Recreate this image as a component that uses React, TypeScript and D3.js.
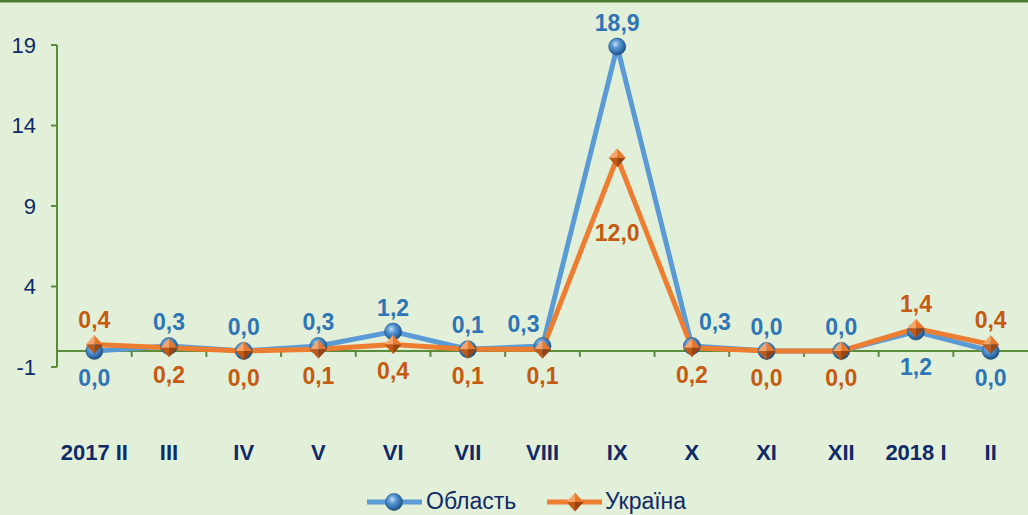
import React from "react";
import * as d3 from "d3";

const categories = ["2017 II", "III", "IV", "V", "VI", "VII", "VIII", "IX", "X", "XI", "XII", "2018 I", "II"];
const oblast = [0.0, 0.3, 0.0, 0.3, 1.2, 0.1, 0.3, 18.9, 0.3, 0.0, 0.0, 1.2, 0.0];
const ukraine = [0.4, 0.2, 0.0, 0.1, 0.4, 0.1, 0.1, 12.0, 0.2, 0.0, 0.0, 1.4, 0.4];
const oblastLabelPos = ["below", "above", "above", "above", "above", "above", "above-left", "above", "above-right", "above", "above", "below-more", "below"];
const ukraineLabelPos = ["above", "below", "below", "below", "below", "below", "below", "far-below", "below", "below", "below", "above", "above"];
const yTicks = [-1, 4, 9, 14, 19];
const seriesNames = ["Область", "Україна"];

const W = 1028;
const H = 515;
const margin = { left: 57, right: 0, top: 45, bottom: 148 };

const BLUE = "#5b9bd5";
const BLUE_TEXT = "#2e75b6";
const ORANGE = "#ed7d31";
const ORANGE_TEXT = "#c55a11";
const NAVY = "#0f2a66";
const AXIS = "#5b8c3a";
const FONT = "'Liberation Sans', Arial, sans-serif";

const fmt = (v: number) => v.toFixed(1).replace(".", ",");

function Sphere({ x, y, r = 8.5 }: { x: number; y: number; r?: number }) {
  return <circle cx={x} cy={y} r={r} fill="url(#sphereGrad)" stroke="#1f4e79" strokeWidth={0.6} />;
}

function Diamond({ x, y, w = 8.5, h = 9.5 }: { x: number; y: number; w?: number; h?: number }) {
  return (
    <g>
      <path d={`M${x},${y - h}L${x - w},${y}L${x},${y}Z`} fill="#f6a56a" />
      <path d={`M${x},${y - h}L${x + w},${y}L${x},${y}Z`} fill="#e8782c" />
      <path d={`M${x - w},${y}L${x},${y + h}L${x},${y}Z`} fill="#c25a16" />
      <path d={`M${x + w},${y}L${x},${y + h}L${x},${y}Z`} fill="#9a4410" />
    </g>
  );
}

export default function App() {
  const x = d3
    .scaleBand<string>()
    .domain(categories)
    .range([margin.left, W - margin.right]);
  const y = d3.scaleLinear().domain([-1, 19]).range([367, 45]);
  const cx = (c: string) => (x(c) as number) + x.bandwidth() / 2;

  const line = d3
    .line<number>()
    .x((_, i) => cx(categories[i]))
    .y((d) => y(d));

  const labelPos = (pos: string, px: number, py: number) => {
    switch (pos) {
      case "above":
        return { x: px, y: py - 16 };
      case "above-right":
        return { x: px + 23, y: py - 16 };
      case "above-left":
        return { x: px - 19, y: py - 14 };
      case "far-below":
        return { x: px, y: py + 83 };
      case "below-more":
        return { x: px, y: py + 43 };
      default:
        return { x: px, y: py + 35 };
    }
  };

  const boundaries = categories.map((c) => (x(c) as number) + x.bandwidth()).slice(0, -1);

  return (
    <svg width={W} height={H} style={{ position: "absolute", left: 0, top: 0 }}>
      <defs>
        <radialGradient id="sphereGrad" cx="40%" cy="35%" r="65%">
          <stop offset="0%" stopColor="#c9e0f5" />
          <stop offset="35%" stopColor="#5b9bd5" />
          <stop offset="80%" stopColor="#2c6aa8" />
          <stop offset="100%" stopColor="#1f4e79" />
        </radialGradient>
      </defs>
      <rect x={0} y={0} width={W} height={H} fill="#e2efd9" />
      <line x1={0} x2={W} y1={1} y2={1} stroke="#4f7a30" strokeWidth={3} />

      {/* y axis */}
      <line x1={margin.left} x2={margin.left} y1={y(19)} y2={y(-1)} stroke={AXIS} strokeWidth={2} />
      {yTicks.map((t) => (
        <g key={t}>
          <line x1={margin.left - 6} x2={margin.left} y1={y(t)} y2={y(t)} stroke={AXIS} strokeWidth={2} />
          <text x={36} y={y(t)} dy="0.36em" textAnchor="end" fontFamily={FONT} fontSize={22} fill={NAVY}>
            {t}
          </text>
        </g>
      ))}

      {/* x axis at 0 */}
      <line x1={margin.left} x2={W} y1={y(0)} y2={y(0)} stroke={AXIS} strokeWidth={2} />
      {boundaries.map((b, i) => (
        <line key={i} x1={b} x2={b} y1={y(0)} y2={y(0) + 6} stroke={AXIS} strokeWidth={2} />
      ))}
      {categories.map((c) => (
        <text key={c} x={cx(c)} y={460} textAnchor="middle" fontFamily={FONT} fontSize={22} fontWeight="bold" fill={NAVY}>
          {c}
        </text>
      ))}

      {/* lines */}
      <path d={line(oblast) || ""} fill="none" stroke={BLUE} strokeWidth={5} strokeLinejoin="round" />
      <path d={line(ukraine) || ""} fill="none" stroke={ORANGE} strokeWidth={5} strokeLinejoin="round" />

      {oblast.map((v, i) => (
        <Sphere key={"o" + i} x={cx(categories[i])} y={y(v)} />
      ))}
      {ukraine.map((v, i) => (
        <Diamond key={"u" + i} x={cx(categories[i])} y={y(v)} />
      ))}

      {oblast.map((v, i) => {
        const p = labelPos(oblastLabelPos[i], cx(categories[i]), y(v));
        return (
          <text key={"ol" + i} x={p.x} y={p.y} textAnchor="middle" fontFamily={FONT} fontSize={23} fontWeight="bold" fill={BLUE_TEXT}>
            {fmt(v)}
          </text>
        );
      })}
      {ukraine.map((v, i) => {
        const p = labelPos(ukraineLabelPos[i], cx(categories[i]), y(v));
        return (
          <text key={"ul" + i} x={p.x} y={p.y} textAnchor="middle" fontFamily={FONT} fontSize={23} fontWeight="bold" fill={ORANGE_TEXT}>
            {fmt(v)}
          </text>
        );
      })}

      {/* legend */}
      <g>
        <line x1={367} x2={422} y1={502} y2={502} stroke={BLUE} strokeWidth={5} />
        <Sphere x={394} y={502} />
        <text x={426} y={509} fontFamily={FONT} fontSize={23} fill={NAVY}>
          {seriesNames[0]}
        </text>
        <line x1={547} x2={602} y1={502} y2={502} stroke={ORANGE} strokeWidth={5} />
        <Diamond x={575} y={502} />
        <text x={605} y={509} fontFamily={FONT} fontSize={23} fill={NAVY}>
          {seriesNames[1]}
        </text>
      </g>
    </svg>
  );
}
